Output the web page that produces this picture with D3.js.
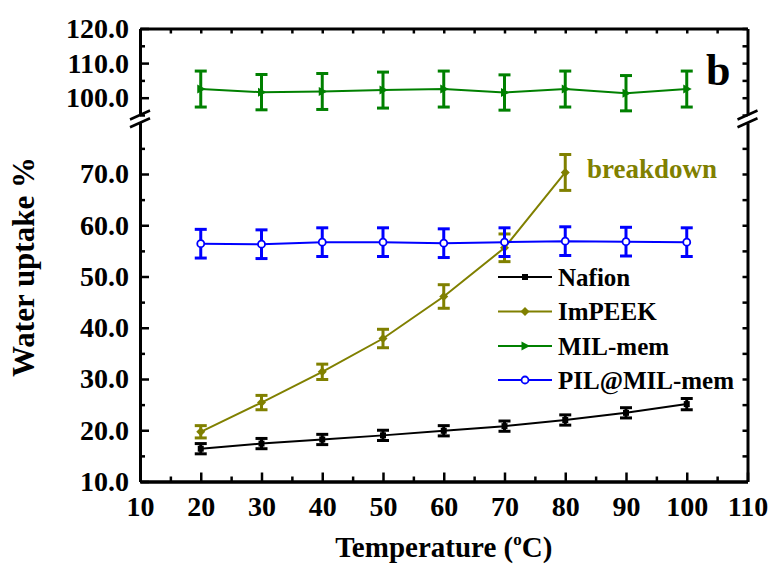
<!DOCTYPE html>
<html>
<head>
<meta charset="utf-8">
<script src="https://cdn.jsdelivr.net/npm/d3@7/dist/d3.min.js"></script>
<style>
  html, body { margin: 0; padding: 0; background: #fff; }
  svg text { font-family: "Liberation Serif", "Times New Roman", serif; font-weight: bold; }
</style>
</head>
<body>
<svg id="chart" width="772" height="564"></svg>
<script>
// Water uptake vs temperature for four membranes
const temperatures = [20, 30, 40, 50, 60, 70, 80, 90, 100];
const impeekTemps = [20, 30, 40, 50, 60, 70, 80];

const nafion    = [16.4, 17.4, 18.2, 19.0, 19.9, 20.8, 22.0, 23.4, 25.1];
const nafionErr = [1.0, 1.0, 1.0, 1.0, 1.0, 1.0, 1.0, 1.0, 1.1];

const impeek    = [19.7, 25.4, 31.4, 37.9, 46.1, 55.6, 70.3];
const impeekErr = [1.2, 1.4, 1.5, 1.8, 2.3, 2.7, 3.5];

const milMem    = [102.5, 101.6, 101.8, 102.2, 102.5, 101.5, 102.5, 101.3, 102.5];
const milMemErr = [5.2, 5.1, 5.2, 5.2, 5.2, 5.1, 5.2, 5.1, 5.2];

const pilMem    = [56.4, 56.3, 56.7, 56.7, 56.5, 56.7, 56.9, 56.8, 56.7];
const pilMemErr = [2.8, 2.8, 2.8, 2.8, 2.8, 2.8, 2.8, 2.8, 2.8];

const seriesNames = ["Nafion", "ImPEEK", "MIL-mem", "PIL@MIL-mem"];
const seriesColors = ["#000000", "#808000", "#008000", "#0000ff"];

const xTicks = [10, 20, 30, 40, 50, 60, 70, 80, 90, 100, 110];
const topYTicks = [100, 110, 120];
const bottomYTicks = [10, 20, 30, 40, 50, 60, 70];

const svg = d3.select("#chart");

// Frame geometry
const fLeft = 140, fRight = 747.5, fTop = 28.5, fBottom = 481.5;
const breakTop = 115, breakBottom = 122.75;

const x = d3.scaleLinear().domain([10, 110]).range([fLeft, fRight]);
const yTop = d3.scaleLinear().domain([95, 120]).range([breakTop, fTop]);
const yBot = d3.scaleLinear().domain([10, 80]).range([fBottom, breakBottom]);

const fmt1 = d3.format(".1f");
const AXW = 3;

function styleAxis(g, fontSize) {
  g.selectAll("path.domain").attr("stroke", "#000").attr("stroke-width", AXW);
  g.selectAll(".tick line").attr("stroke", "#000").attr("stroke-width", 2.5);
  g.selectAll(".tick text").attr("fill", "#000")
    .style("font-size", fontSize + "px")
    .style("font-family", "'Liberation Serif','Times New Roman',serif")
    .style("font-weight", "bold");
}

// Left axis, upper panel
svg.append("g").attr("transform", `translate(${fLeft},0)`)
  .call(d3.axisLeft(yTop).tickValues([95, 105, 115]).tickSize(-5).tickSizeOuter(0).tickFormat(""))
  .call(g => styleAxis(g, 28));
svg.append("g").attr("transform", `translate(${fLeft},0)`)
  .call(d3.axisLeft(yTop).tickValues(topYTicks).tickSize(-9).tickPadding(11).tickSizeOuter(0).tickFormat(fmt1))
  .call(g => styleAxis(g, 28));

// Left axis, lower panel
svg.append("g").attr("transform", `translate(${fLeft},0)`)
  .call(d3.axisLeft(yBot).tickValues([15, 25, 35, 45, 55, 65, 75]).tickSize(-5).tickSizeOuter(0).tickFormat(""))
  .call(g => styleAxis(g, 28));
svg.append("g").attr("transform", `translate(${fLeft},0)`)
  .call(d3.axisLeft(yBot).tickValues(bottomYTicks).tickSize(-9).tickPadding(11).tickSizeOuter(0).tickFormat(fmt1))
  .call(g => styleAxis(g, 28));

// Right axis, both panels (ticks only)
svg.append("g").attr("transform", `translate(${fRight},0)`)
  .call(d3.axisRight(yTop).tickValues(d3.range(95, 121, 5)).tickSize(-5).tickSizeOuter(0).tickFormat(""))
  .call(g => styleAxis(g, 28));
svg.append("g").attr("transform", `translate(${fRight},0)`)
  .call(d3.axisRight(yBot).tickValues(d3.range(15, 80, 5)).tickSize(-5).tickSizeOuter(0).tickFormat(""))
  .call(g => styleAxis(g, 28));

// Top axis (ticks only)
svg.append("g").attr("transform", `translate(0,${fTop})`)
  .call(d3.axisTop(x).tickValues(d3.range(15, 110, 5)).tickSize(-5).tickSizeOuter(0).tickFormat(""))
  .call(g => styleAxis(g, 28));

// Bottom axis
svg.append("g").attr("transform", `translate(0,${fBottom})`)
  .call(d3.axisBottom(x).tickValues(d3.range(15, 110, 10)).tickSize(-5).tickSizeOuter(0).tickFormat(""))
  .call(g => styleAxis(g, 28));
svg.append("g").attr("transform", `translate(0,${fBottom})`)
  .call(d3.axisBottom(x).tickValues(xTicks).tickSize(-9).tickPadding(14.5).tickSizeOuter(0).tickFormat(d3.format("d")))
  .call(g => styleAxis(g, 28));

// Axis break marks
[fLeft, fRight].forEach(bx => {
  [breakTop, breakBottom].forEach(by => {
    svg.append("line")
      .attr("x1", bx - 10).attr("y1", by + 4.5)
      .attr("x2", bx + 10).attr("y2", by - 4.5)
      .attr("stroke", "#000").attr("stroke-width", 2.5);
  });
});

// Marker shapes
function drawMarker(g, kind, cx, cy, color) {
  if (kind === "square") {
    g.append("rect").attr("x", cx - 3).attr("y", cy - 3).attr("width", 6).attr("height", 6).attr("fill", color);
  } else if (kind === "diamond") {
    g.append("path").attr("d", `M${cx},${cy - 4.5}L${cx + 4.5},${cy}L${cx},${cy + 4.5}L${cx - 4.5},${cy}Z`).attr("fill", color);
  } else if (kind === "triangle") {
    g.append("path").attr("d", `M${cx + 5},${cy}L${cx - 3.5},${cy - 4.5}L${cx - 3.5},${cy + 4.5}Z`).attr("fill", color);
  } else if (kind === "circle") {
    g.append("circle").attr("cx", cx).attr("cy", cy).attr("r", 3.5)
      .attr("fill", "#fff").attr("stroke", color).attr("stroke-width", 1.8);
  }
}

function drawSeries(xs, ys, errs, yScale, color, kind) {
  const g = svg.append("g");
  const line = d3.line().x((d, i) => x(xs[i])).y(d => yScale(d));
  g.append("path").datum(ys).attr("d", line)
    .attr("fill", "none").attr("stroke", color).attr("stroke-width", 2);
  ys.forEach((v, i) => {
    const cx = x(xs[i]);
    const y1 = yScale(v + errs[i]), y2 = yScale(v - errs[i]);
    g.append("line").attr("x1", cx).attr("x2", cx).attr("y1", y1).attr("y2", y2)
      .attr("stroke", color).attr("stroke-width", 3);
    [y1, y2].forEach(yy => {
      g.append("line").attr("x1", cx - 6).attr("x2", cx + 6).attr("y1", yy).attr("y2", yy)
        .attr("stroke", color).attr("stroke-width", 3);
    });
    drawMarker(g, kind, cx, yScale(v), color);
  });
}

drawSeries(temperatures, nafion, nafionErr, yBot, seriesColors[0], "square");
drawSeries(impeekTemps, impeek, impeekErr, yBot, seriesColors[1], "diamond");
drawSeries(temperatures, milMem, milMemErr, yTop, seriesColors[2], "triangle");
drawSeries(temperatures, pilMem, pilMemErr, yBot, seriesColors[3], "circle");

// Legend
const legendKinds = ["square", "diamond", "triangle", "circle"];
const legendY = [277, 311.5, 346, 380];
seriesNames.forEach((name, i) => {
  const g = svg.append("g");
  g.append("line").attr("x1", 498).attr("x2", 552).attr("y1", legendY[i]).attr("y2", legendY[i])
    .attr("stroke", seriesColors[i]).attr("stroke-width", 2);
  drawMarker(g, legendKinds[i], 525, legendY[i], seriesColors[i]);
  g.append("text").attr("x", 558).attr("y", legendY[i] + 8.5)
    .style("font-size", "25px").attr("fill", "#000").text(name);
});

// Annotations
svg.append("text").attr("x", 587).attr("y", 178).style("font-size", "27px")
  .attr("fill", "#808000").text("breakdown");
svg.append("text").attr("x", 706).attr("y", 85).style("font-size", "44px")
  .attr("fill", "#000").text("b");

// Axis titles
const xt = svg.append("text").attr("x", (fLeft + fRight) / 2).attr("y", 557)
  .attr("text-anchor", "middle").style("font-size", "29px").attr("fill", "#000");
xt.append("tspan").text("Temperature (");
xt.append("tspan").attr("dy", -12).style("font-size", "17px").text("o");
xt.append("tspan").attr("dy", 12).text("C)");

svg.append("text").attr("transform", "translate(34,267) rotate(-90)")
  .attr("text-anchor", "middle").style("font-size", "31px").attr("fill", "#000")
  .text("Water uptake %");
</script>
</body>
</html>
